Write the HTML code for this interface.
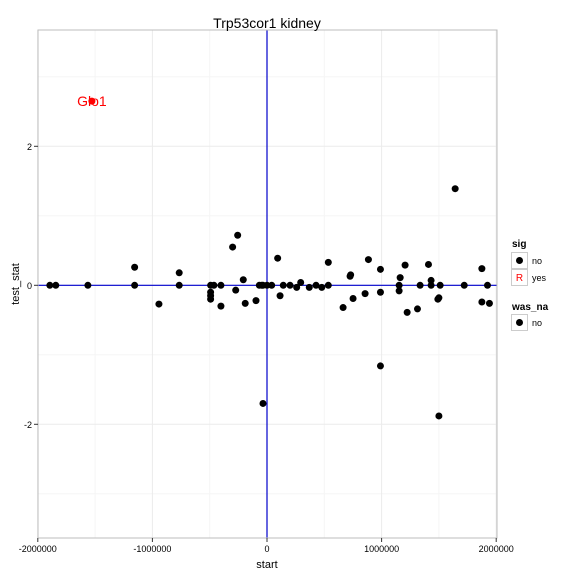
<!DOCTYPE html>
<html><head><meta charset="utf-8"><style>
body{margin:0;background:#fff;font-family:"Liberation Sans",sans-serif}
text{font-family:"Liberation Sans",sans-serif}
</style></head><body>
<svg id="chart" width="576" height="576" xmlns="http://www.w3.org/2000/svg">
<rect x="0" y="0" width="576" height="576" fill="#fff"/>
<g id="grid"></g>
<g id="refs"></g>
<g id="pts"></g>
<rect x="38" y="30" width="459" height="508" fill="none" stroke="#bdbdbd" stroke-width="1"/>
<g id="axes"></g>
<text x="267" y="28" text-anchor="middle" font-size="14">Trp53cor1 kidney</text>
<text x="267" y="568" text-anchor="middle" font-size="11">start</text>
<text x="0" y="0" transform="translate(19,284) rotate(-90)" text-anchor="middle" font-size="11">test_stat</text>
<g>
<text x="512" y="247" font-size="10" font-weight="bold">sig</text>
<rect x="511.5" y="252.5" width="16" height="16" fill="#fff" stroke="#ccc"/>
<circle cx="519.5" cy="260.5" r="3.5" fill="#000"/>
<text x="532" y="264" font-size="9">no</text>
<rect x="511.5" y="269.5" width="16" height="16" fill="#fff" stroke="#ccc"/>
<text x="519.5" y="281" text-anchor="middle" font-size="10" fill="red">R</text>
<text x="532" y="281" font-size="9">yes</text>
<text x="512" y="310" font-size="10" font-weight="bold">was_na</text>
<rect x="511.5" y="314.5" width="16" height="16" fill="#fff" stroke="#ccc"/>
<circle cx="519.5" cy="322.5" r="3.5" fill="#000"/>
<text x="532" y="326" font-size="9">no</text>
</g>
</svg>
<script>
const xs=[-1.895,-1.843,-1.563,-1.155,-1.155,-0.943,-0.766,-0.766,-0.492,-0.492,-0.492,-0.492,-0.463,-0.402,-0.402,-0.3,-0.256,-0.273,-0.207,-0.19,-0.096,-0.067,-0.046,-0.035,0,0.041,0.093,0.114,0.142,0.201,0.259,0.294,0.369,0.428,0.478,0.535,0.535,0.664,0.725,0.73,0.751,0.856,0.885,0.99,0.99,1.153,1.153,1.162,1.205,1.223,1.313,1.336,1.409,1.432,1.432,1.491,1.5,1.511,1.642,1.721,1.875,1.875,1.924,1.941,-0.035,0.99,1.5];
const ys=[0,0,0,0.26,0,-0.27,0.18,0,0,-0.1,-0.15,-0.2,0,0,-0.3,0.55,0.72,-0.07,0.08,-0.26,-0.22,0,0,0,0,0,0.39,-0.15,0,0,-0.03,0.04,-0.03,0,-0.03,0,0.33,-0.32,0.13,0.15,-0.19,-0.12,0.37,0.23,-0.1,0,-0.08,0.11,0.29,-0.39,-0.34,0,0.3,0.07,0,-0.2,-0.18,0,1.39,0,0.24,-0.24,0,-0.26,-1.7,-1.16,-1.88];
const sigX=[-1.528];
const sigY=[2.65];
const sigLabels=["Glo1"];
const xTicks=[-2,-1,0,1,2];
const xTickLabels=["-2000000","-1000000","0","1000000","2000000"];
const yTicks=[-2,0,2];
const yTickLabels=["-2","0","2"];
const NS="http://www.w3.org/2000/svg";
const X=v=>267+v*114.6;
const Y=v=>285.3-v*69.5;
function mk(t,a,p){const e=document.createElementNS(NS,t);for(const k in a)e.setAttribute(k,a[k]);p.appendChild(e);return e;}
const g=document.getElementById('grid');
[-1.5,-0.5,0.5,1.5].forEach(v=>{const l=mk('line',{x1:X(v),x2:X(v),y1:30,y2:538,stroke:'#f5f5f5'},g);});
[-3,-1,1,3].forEach(v=>{const l=mk('line',{x1:38,x2:497,y1:Y(v),y2:Y(v),stroke:'#f5f5f5'},g);});
xTicks.forEach(v=>{const l=mk('line',{x1:X(v),x2:X(v),y1:30,y2:538,stroke:'#ebebeb'},g);});
yTicks.forEach(v=>{const l=mk('line',{x1:38,x2:497,y1:Y(v),y2:Y(v),stroke:'#ebebeb'},g);});
const r=document.getElementById('refs');
let h=mk('line',{x1:38,x2:497,y1:Y(0),y2:Y(0),stroke:'#0000cc','stroke-width':1.2},r);

let vl=mk('line',{x1:X(0),x2:X(0),y1:30,y2:538,stroke:'#0000cc','stroke-width':1.2},r);

const p=document.getElementById('pts');
xs.forEach((v,i)=>{const c=mk('circle',{cx:X(v),cy:Y(ys[i]),r:3.5,fill:'#000'},p);});
sigX.forEach((v,i)=>{const c=mk('circle',{cx:X(v),cy:Y(sigY[i]),r:3.5,fill:'red'},p);
const t=mk('text',{x:X(v),y:Y(sigY[i])+5,'text-anchor':'middle','font-size':14,fill:'red'},p);t.textContent=sigLabels[i];});
const a=document.getElementById('axes');
xTicks.forEach((v,i)=>{const l=mk('line',{x1:X(v),x2:X(v),y1:538,y2:542,stroke:'#333'},a);
const t=mk('text',{x:X(v),y:552,'text-anchor':'middle','font-size':9},a);t.textContent=xTickLabels[i];});
yTicks.forEach((v,i)=>{const l=mk('line',{x1:34,x2:38,y1:Y(v),y2:Y(v),stroke:'#333'},a);
const t=mk('text',{x:32,y:Y(v)+3.5,'text-anchor':'end','font-size':9},a);t.textContent=yTickLabels[i];});
</script>
</body></html>
